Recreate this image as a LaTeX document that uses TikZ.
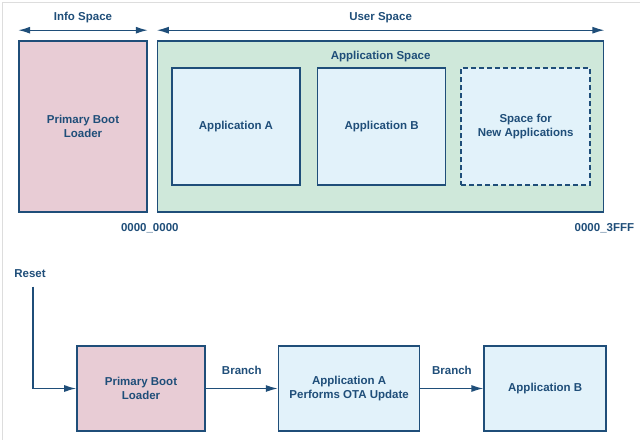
\documentclass[tikz,border=0pt]{standalone}
\usepackage{fontspec}
\setmainfont{Liberation Sans}
\usepackage{tikz}
\usetikzlibrary{arrows.meta,positioning}
\definecolor{adiblue}{HTML}{1F4E79}
\definecolor{adipink}{HTML}{E8CCD5}
\definecolor{adigreen}{HTML}{CFE8DA}
\definecolor{adilight}{HTML}{E2F2FA}
\definecolor{framegray}{HTML}{DDDDDD}

\begin{document}
\begin{tikzpicture}[x=1pt,y=-1pt,>={Latex[length=12pt,width=7pt]},
  every node/.style={text=adiblue,font=\fontsize{11.5}{14}\selectfont\bfseries},
  blk/.style={draw=adiblue,line width=1.6pt,align=center,inner sep=0pt},
  link/.style={draw=adiblue,line width=1.3pt}]
\useasboundingbox (0,0) rectangle (640,440);
\draw[framegray,line width=1pt] (640,2) -- (2,2) -- (2,440);
% memory map
\node (pbl) [blk, fill=adipink, minimum width=128pt, minimum height=171pt] at (83,126.5) {Primary Boot\\Loader};
\node (appsp) [blk, fill=adigreen, minimum width=446pt, minimum height=171pt, right=9pt of pbl] {};
\node (appsplbl) [below=7pt of appsp.north] {Application Space};
\node (appa) [blk, fill=adilight, minimum width=128pt, minimum height=117pt] at (236,126.5) {Application A};
\node (appb) [blk, fill=adilight, minimum width=128pt, minimum height=117pt, right=16pt of appa] {Application B};
\node (newapp) [blk, fill=adilight, dash pattern=on 5pt off 3pt, minimum width=129pt, minimum height=117pt, right=14pt of appb] {Space for\\New Applications};
\draw[<->, link] ([yshift=10pt]pbl.north west) -- node[above=3pt] (infolbl) {Info Space} ([yshift=10pt]pbl.north east);
\draw[<->, link] ([yshift=10pt]appsp.north west) -- node[above=3pt] (userlbl) {User Space} ([yshift=10pt]appsp.north east);
\node (addrlo) [below=7pt of appsp.south west, xshift=-7pt] {0000\_0000};
\node (addrhi) [below=7pt of appsp.south east] {0000\_3FFF};
% boot flow
\node (pbl2) [blk, fill=adipink, minimum width=128pt, minimum height=85pt] at (141,388.5) {Primary Boot\\Loader};
\node (appa2) [blk, fill=adilight, minimum width=141pt, minimum height=85pt, right=72pt of pbl2] {Application A\\Performs OTA Update};
\node (appb2) [blk, fill=adilight, minimum width=122pt, minimum height=85pt, right=63pt of appa2] {Application B};
\node (reset) at (30,274) {Reset};
\draw[->, link] ([xshift=3pt,yshift=-5pt]reset.south) |- (pbl2.west);
\draw[->, link] (pbl2) -- node[above=10pt] (br1) {Branch} (appa2);
\draw[->, link] (appa2) -- node[above=10pt] (br2) {Branch} (appb2);
\end{tikzpicture}
\end{document}
